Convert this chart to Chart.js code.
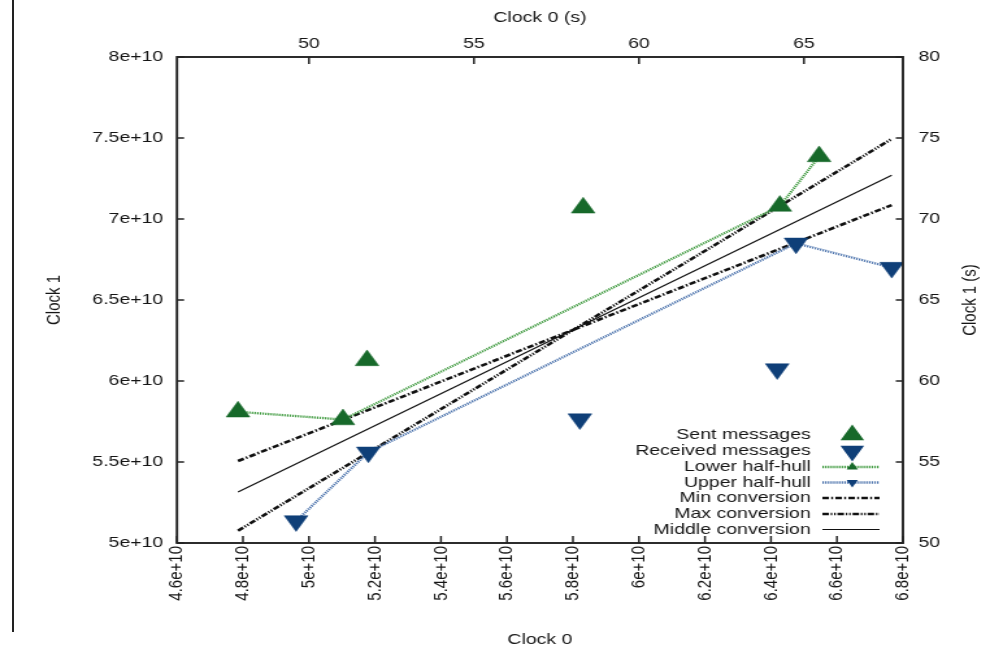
<!DOCTYPE html>
<html><head><meta charset="utf-8">
<script src="https://cdn.jsdelivr.net/npm/chart.js@4"></script>
<style>
html,body{margin:0;padding:0;background:#fff;overflow:hidden;width:990px;height:651px;}
#edge{position:absolute;left:12px;top:0;width:2px;height:632px;background:#222;}
#wrap{position:absolute;left:0;top:0;width:762px;height:651px;transform:scale(1.2992,1);transform-origin:0 0;}
</style></head><body>
<div id="edge"></div>
<div id="wrap"><canvas id="c"></canvas></div>
<script>
// ---- data ----
const sentX = [4.785e10, 5.103e10, 5.176e10, 5.831e10, 6.427e10, 6.546e10];
const sentY = [5.810e10, 5.762e10, 6.127e10, 7.069e10, 7.080e10, 7.386e10];
const recvX = [4.961e10, 5.180e10, 5.821e10, 6.419e10, 6.476e10, 6.766e10];
const recvY = [5.136e10, 5.560e10, 5.765e10, 6.074e10, 6.850e10, 6.700e10];
const lowerHullX = [4.785e10, 5.103e10, 6.427e10, 6.546e10];
const lowerHullY = [5.810e10, 5.762e10, 7.080e10, 7.386e10];
const upperHullX = [4.961e10, 5.180e10, 6.476e10, 6.766e10];
const upperHullY = [5.136e10, 5.560e10, 6.850e10, 6.700e10];
const convX = [4.785e10, 6.766e10];
const minConvY = [5.506e10, 7.086e10];
const maxConvY = [5.076e10, 7.494e10];
const midConvY = [5.315e10, 7.270e10];

const xTicks = [4.6e10, 4.8e10, 5.0e10, 5.2e10, 5.4e10, 5.6e10, 5.8e10, 6.0e10, 6.2e10, 6.4e10, 6.6e10, 6.8e10];
const xTickLabels = ['4.6e+10','4.8e+10','5e+10','5.2e+10','5.4e+10','5.6e+10','5.8e+10','6e+10','6.2e+10','6.4e+10','6.6e+10','6.8e+10'];
const yTicks = [5e10, 5.5e10, 6e10, 6.5e10, 7e10, 7.5e10, 8e10];
const yTickLabels = ['5e+10','5.5e+10','6e+10','6.5e+10','7e+10','7.5e+10','8e+10'];
const x2Ticks = [50, 55, 60, 65];
const x2TickLabels = ['50','55','60','65'];
const y2Ticks = [50, 55, 60, 65, 70, 75, 80];
const y2TickLabels = ['50','55','60','65','70','75','80'];

const zip = (xs, ys) => xs.map((x, i) => ({x, y: ys[i]}));

const GREEN = '#17692a', BLUE = '#0f3f78', GLINE = '#3f9a3f', BLINE = '#4d74ad';
const FONT = "'Liberation Sans', Arial, sans-serif";
const TXT = '#151515';

Chart.defaults.font.family = FONT;
Chart.defaults.font.size = 15;
Chart.defaults.color = TXT;

function tri(ctx, x, y, r, down) {
  ctx.beginPath();
  let rad = down ? Math.PI : 0;
  for (let k = 0; k < 3; k++) {
    const px = x + Math.sin(rad) * r, py = y - Math.cos(rad) * r;
    if (k === 0) ctx.moveTo(px, py); else ctx.lineTo(px, py);
    rad += 2 * Math.PI / 3;
  }
  ctx.closePath();
  ctx.fill();
}

const framePlugin = {
  id: 'framePlugin',
  afterDatasetsDraw(chart) {
    const {ctx, chartArea: a, scales} = chart;
    ctx.save();
    ctx.strokeStyle = '#222';
    ctx.lineWidth = 1.5;
    const seg = (x1, y1, x2, y2) => { ctx.beginPath(); ctx.moveTo(x1, y1); ctx.lineTo(x2, y2); ctx.stroke(); };
    scales.x.ticks.forEach(t => { const p = scales.x.getPixelForValue(t.value); seg(p, a.bottom, p, a.bottom - 7); });
    scales.x2.ticks.forEach(t => { const p = scales.x2.getPixelForValue(t.value); seg(p, a.top, p, a.top + 7); });
    scales.y.ticks.forEach(t => { const p = scales.y.getPixelForValue(t.value); seg(a.left, p, a.left + 5.5, p); });
    scales.y2.ticks.forEach(t => { const p = scales.y2.getPixelForValue(t.value); seg(a.right, p, a.right - 5.5, p); });
    ctx.lineWidth = 1.9;
    ctx.strokeRect(a.left, a.top, a.right - a.left, a.bottom - a.top);
    ctx.restore();
  },
  afterDraw(chart) {
    const {ctx} = chart;
    ctx.save();
    // right axis title (reads bottom to top)
    ctx.font = '15px ' + FONT;
    ctx.fillStyle = TXT;
    ctx.textAlign = 'center';
    ctx.textBaseline = 'middle';
    ctx.translate(746.5, 300);
    ctx.rotate(-Math.PI / 2);
    ctx.fillText('Clock 1 (s)', 0, 0);
    ctx.restore();

    // legend
    ctx.save();
    ctx.font = '15px ' + FONT;
    ctx.textAlign = 'right';
    ctx.textBaseline = 'middle';
    const rows = [435, 451, 467, 482.5, 498, 514, 529.5];
    const textX = 624, l1 = 633, l2 = 677, mx = 656;
    chart.data.datasets.forEach((ds, i) => {
      const y = rows[i];
      ctx.fillStyle = TXT;
      ctx.fillText(ds.label, textX, y);
      if (ds.showLine) {
        ctx.save();
        ctx.strokeStyle = ds.borderColor;
        ctx.lineWidth = ds.borderWidth;
        ctx.setLineDash(ds.borderDash || []);
        ctx.beginPath(); ctx.moveTo(l1, y); ctx.lineTo(l2, y); ctx.stroke();
        ctx.restore();
        if (ds.pointRadius > 0) {
          ctx.fillStyle = ds.pointBackgroundColor;
          tri(ctx, mx, y, ds.pointRadius, ds.pointRotation === 180);
        }
      } else {
        ctx.fillStyle = ds.pointBackgroundColor;
        tri(ctx, mx, y, ds.pointRadius, ds.pointRotation === 180);
      }
    });
    ctx.restore();
  }
};

function fixedTicks(values) {
  return function(scale) { scale.ticks = values.map(v => ({value: v})); };
}

const noGrid = {display: false, drawTicks: false, tickLength: 0};

new Chart(document.getElementById('c'), {
  type: 'scatter',
  data: {
    datasets: [
      {label: 'Sent messages', data: zip(sentX, sentY), showLine: false,
       pointStyle: 'triangle', pointRadius: 10.5, pointRotation: 0,
       pointBackgroundColor: GREEN, pointBorderColor: GREEN, pointBorderWidth: 0.5},
      {label: 'Received messages', data: zip(recvX, recvY), showLine: false,
       pointStyle: 'triangle', pointRadius: 10.5, pointRotation: 180,
       pointBackgroundColor: BLUE, pointBorderColor: BLUE, pointBorderWidth: 0.5},
      {label: 'Lower half-hull', data: zip(lowerHullX, lowerHullY), showLine: true,
       borderColor: GLINE, borderWidth: 2.3, borderDash: [1.2, 0.9],
       pointStyle: 'triangle', pointRadius: 5, pointRotation: 0,
       pointBackgroundColor: GREEN, pointBorderColor: GREEN, pointBorderWidth: 0},
      {label: 'Upper half-hull', data: zip(upperHullX, upperHullY), showLine: true,
       borderColor: BLINE, borderWidth: 2.3, borderDash: [1.2, 0.9],
       pointStyle: 'triangle', pointRadius: 5, pointRotation: 180,
       pointBackgroundColor: BLUE, pointBorderColor: BLUE, pointBorderWidth: 0},
      {label: 'Min conversion', data: zip(convX, minConvY), showLine: true,
       borderColor: '#111', borderWidth: 2.6, borderDash: [5, 1.8, 1.4, 1.8], pointRadius: 0},
      {label: 'Max conversion', data: zip(convX, maxConvY), showLine: true,
       borderColor: '#111', borderWidth: 2.6, borderDash: [5, 1.4, 1.2, 1.4, 1.2, 1.4], pointRadius: 0},
      {label: 'Middle conversion', data: zip(convX, midConvY), showLine: true,
       borderColor: '#111', borderWidth: 1.2, pointRadius: 0}
    ]
  },
  options: {
    responsive: true,
    maintainAspectRatio: false,
    animation: false,
    layout: {padding: 0},
    plugins: {legend: {display: false}, tooltip: {enabled: false}},
    scales: {
      x: {
        type: 'linear', position: 'bottom', min: 4.6e10, max: 6.8e10,
        afterBuildTicks: fixedTicks(xTicks),
        afterFit: s => { s.height = 108; },
        grid: noGrid, border: {display: false},
        ticks: {autoSkip: false, minRotation: 90, maxRotation: 90, padding: 3,
                callback: (v, i) => xTickLabels[i]},
        title: {display: true, text: 'Clock 0', padding: {top: 0, bottom: 2}, font: {size: 15}}
      },
      x2: {
        type: 'linear', position: 'top', min: 46, max: 68,
        afterBuildTicks: fixedTicks(x2Ticks),
        afterFit: s => { s.height = 57; },
        grid: noGrid, border: {display: false},
        ticks: {autoSkip: false, maxRotation: 0, padding: 4,
                callback: (v, i) => x2TickLabels[i]},
        title: {display: true, text: 'Clock 0 (s)', padding: {top: 9, bottom: 0}, font: {size: 15}}
      },
      y: {
        type: 'linear', position: 'left', min: 5e10, max: 8e10,
        afterBuildTicks: fixedTicks(yTicks),
        afterFit: s => { s.width = 136.2; },
        grid: noGrid, border: {display: false},
        ticks: {autoSkip: false, padding: 10.5,
                callback: (v, i) => yTickLabels[i]},
        title: {display: true, text: 'Clock 1', padding: {top: 33, bottom: 0}, font: {size: 15}}
      },
      y2: {
        type: 'linear', position: 'right', min: 50, max: 80,
        afterBuildTicks: fixedTicks(y2Ticks),
        afterFit: s => { s.width = 67; },
        grid: noGrid, border: {display: false},
        ticks: {autoSkip: false, padding: 12,
                callback: (v, i) => y2TickLabels[i]}
      }
    }
  },
  plugins: [framePlugin]
});
</script>
</body></html>
